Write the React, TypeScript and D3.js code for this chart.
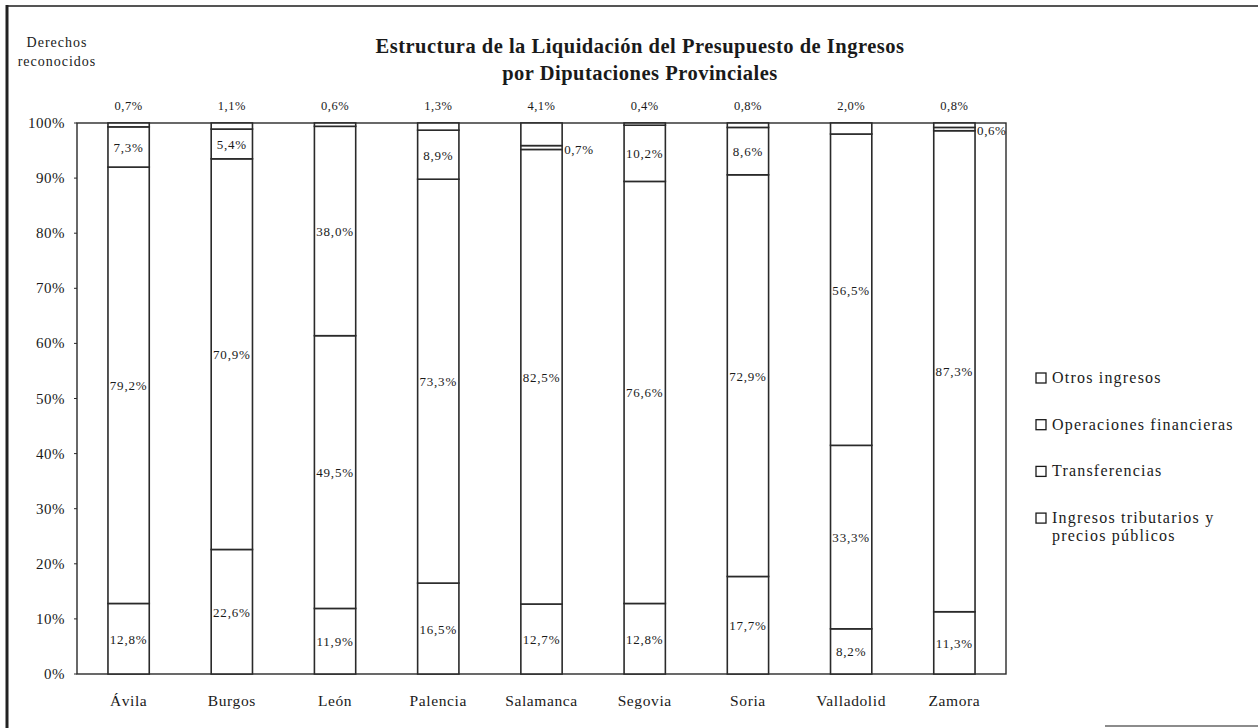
import React from "react";
import * as d3 from "d3";

// Provincial councils and the share of each revenue type (bottom to top of each bar)
const provinces = ["Ávila", "Burgos", "León", "Palencia", "Salamanca", "Segovia", "Soria", "Valladolid", "Zamora"];
const tributarios = [12.8, 22.6, 11.9, 16.5, 12.7, 12.8, 17.7, 8.2, 11.3];
const transferencias = [79.2, 70.9, 49.5, 73.3, 82.5, 76.6, 72.9, 33.3, 87.3];
const financieras = [7.3, 5.4, 38.0, 8.9, 0.7, 10.2, 8.6, 56.5, 0.6];
const otros = [0.7, 1.1, 0.6, 1.3, 4.1, 0.4, 0.8, 2.0, 0.8];
const seriesKeys = ["tributarios", "transferencias", "financieras", "otros"];
const legendLabels = [
  ["Otros ingresos"],
  ["Operaciones financieras"],
  ["Transferencias"],
  ["Ingresos tributarios y", "precios públicos"],
];
const yTicks = [0, 10, 20, 30, 40, 50, 60, 70, 80, 90, 100];

const W = 1258;
const H = 728;
const FONT = "'Liberation Serif', 'DejaVu Serif', serif";
const INK = "#1a1a1a";
const LINE = "#2a2a2a";

const pct = (v: number) => d3.format(".1f")(v).replace(".", ",") + "%";

export default function App() {
  const rows = provinces.map((p, i) => ({
    province: p,
    tributarios: tributarios[i],
    transferencias: transferencias[i],
    financieras: financieras[i],
    otros: otros[i],
  }));
  const stacked = d3.stack<any>().keys(seriesKeys)(rows);

  const x = d3.scaleBand().domain(provinces).range([77, 1006]).paddingInner(0.6).paddingOuter(0.3);
  const y = d3.scaleLinear().domain([0, 100]).range([674, 123]);
  const bw = x.bandwidth();

  return (
    <svg
      width={W}
      height={H}
      viewBox={`0 0 ${W} ${H}`}
      style={{ position: "absolute", left: 0, top: 0, background: "#fff" }}
      fontFamily={FONT}
    >
      {/* outer frame */}
      <line x1={6} x2={W} y1={6} y2={6} stroke="#555" strokeWidth={2} />
      <line x1={7} x2={7} y1={5} y2={H} stroke="#222" strokeWidth={3} />
      <line x1={1105} x2={W} y1={726} y2={726} stroke="#666" strokeWidth={1.5} />

      {/* title */}
      <text x={640} y={53} textAnchor="middle" fontSize={20.5} fontWeight="bold" letterSpacing={0.5} fill={INK}>
        Estructura de la Liquidación del Presupuesto de Ingresos
      </text>
      <text x={640} y={80} textAnchor="middle" fontSize={20.5} fontWeight="bold" letterSpacing={0.5} fill={INK}>
        por Diputaciones Provinciales
      </text>

      {/* y-axis caption */}
      <text x={57} y={47} textAnchor="middle" fontSize={14} letterSpacing={1} fill={INK}>Derechos</text>
      <text x={57} y={66} textAnchor="middle" fontSize={14} letterSpacing={1} fill={INK}>reconocidos</text>

      {/* y ticks */}
      {yTicks.map((t) => (
        <g key={t}>
          <text x={65} y={y(t) + 5} textAnchor="end" fontSize={15} letterSpacing={0.5} fill={INK}>
            {t}%
          </text>
          <line x1={74} x2={77} y1={y(t)} y2={y(t)} stroke={LINE} strokeWidth={1} />
        </g>
      ))}

      {/* plot frame */}
      <rect x={77} y={123} width={929} height={551} fill="none" stroke={LINE} strokeWidth={1.4} />

      {/* stacked bars */}
      {stacked.map((s) =>
        s.map((d, i) => (
          <rect
            key={s.key + i}
            x={x(provinces[i])!}
            y={y(d[1])}
            width={bw}
            height={y(d[0]) - y(d[1])}
            fill="#fff"
            stroke={LINE}
            strokeWidth={1.6}
          />
        ))
      )}

      {/* value labels */}
      {stacked.map((s) =>
        s.map((d, i) => {
          const v = d[1] - d[0];
          const cx = x(provinces[i])! + bw / 2;
          if (s.key === "otros") {
            return (
              <text key={"l" + s.key + i} x={cx} y={110} textAnchor="middle" fontSize={12.5} letterSpacing={0.5} fill={INK}>
                {pct(v)}
              </text>
            );
          }
          if (v < 2) {
            return (
              <text key={"l" + s.key + i} x={x(provinces[i])! + bw + 2} y={y((d[0] + d[1]) / 2) + 6} fontSize={13} letterSpacing={0.6} fill={INK}>
                {pct(v)}
              </text>
            );
          }
          return (
            <text key={"l" + s.key + i} x={cx} y={y((d[0] + d[1]) / 2) + 5} textAnchor="middle" fontSize={13} letterSpacing={0.8} fill={INK}>
              {pct(v)}
            </text>
          );
        })
      )}

      {/* category labels */}
      {provinces.map((p) => (
        <text key={p} x={x(p)! + bw / 2} y={706} textAnchor="middle" fontSize={15.5} letterSpacing={0.6} fill={INK}>
          {p}
        </text>
      ))}

      {/* legend */}
      {legendLabels.map((lines, i) => {
        const ly = 378 + i * 46.7;
        return (
          <g key={i}>
            <rect x={1036} y={ly - 5} width={10} height={10} fill="#fff" stroke={INK} strokeWidth={1.3} />
            {lines.map((t, j) => (
              <text key={j} x={1052} y={ly + 5 + j * 18} fontSize={16} letterSpacing={1.2} fill={INK}>
                {t}
              </text>
            ))}
          </g>
        );
      })}
    </svg>
  );
}
